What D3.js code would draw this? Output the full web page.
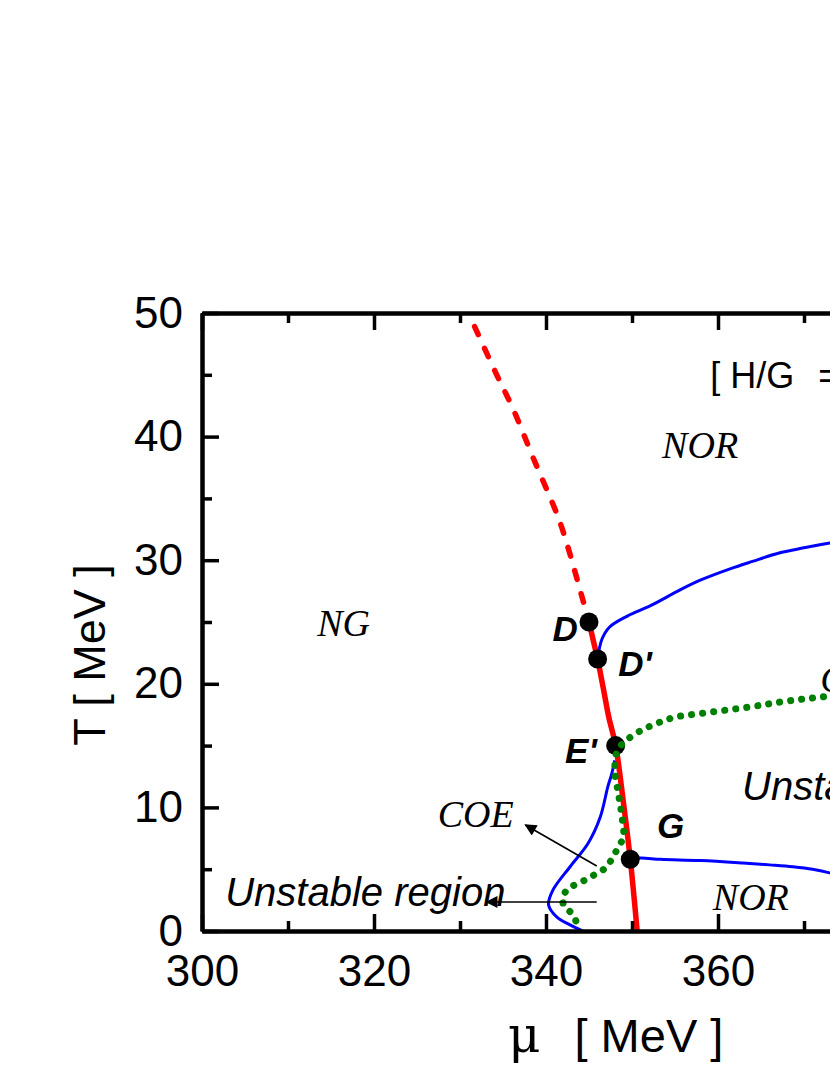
<!DOCTYPE html>
<html>
<head>
<meta charset="utf-8">
<script src="https://cdn.jsdelivr.net/npm/d3@7"></script>
<style>
  body { margin: 0; background: #fff; }
  svg { display: block; }
  text { font-family: "Liberation Sans", Arial, sans-serif; }
  .serif { font-family: "Liberation Serif", "Times New Roman", serif; font-style: italic; }
</style>
</head>
<body>
<div id="chart"></div>
<script>
// tick values (only the ones inside the visible frame get labels)
const xMajor = [300, 320, 340, 360];
const xMinor = [310, 330, 350, 370];
const yMajor = [0, 10, 20, 30, 40, 50];
const yMinor = [5, 15, 25, 35, 45];

// curves, [mu, T]
const redDashed = [[331.7, 48.9], [334.2, 45.1], [336.2, 42.2], [338.5, 38.3], [341.4, 33.5], [342.4, 31.4], [344.2, 27.0], [345.0, 25.0]];
const redSolid = [[345.0, 25.0], [345.5, 23.5], [346.0, 22.0], [346.7, 19.5], [347.3, 17.3], [348.1, 15.0], [349.0, 10.4], [349.8, 5.8], [350.6, 0.0]];
const blueUpper = [[346.0, 22.0], [346.5, 23.6], [347.4, 24.6], [349.5, 25.5], [352.1, 26.3], [355.6, 27.6], [358.0, 28.4], [361.4, 29.3], [364.0, 29.9], [367.2, 30.6], [370.0, 31.0], [373.0, 31.4], [376.0, 31.8], [380.0, 32.2]];
const blueLower = [[348.0, 13.8], [347.6, 12.6], [347.2, 11.7], [346.3, 9.2], [344.9, 7.1], [342.8, 5.2], [340.8, 3.3], [340.3, 2.1], [341.3, 1.1], [342.8, 0.5], [344.3, 0.0]];
const blueG = [[349.8, 5.8], [351.0, 5.9], [353.3, 5.8], [358.0, 5.7], [362.9, 5.5], [366.0, 5.35], [368.7, 5.2], [371.0, 5.0], [373.0, 4.7], [376.0, 4.0], [380.0, 3.0]];
const greenDotted = [[380.0, 19.5], [373.0, 19.0], [368.0, 18.6], [363.4, 18.1], [358.0, 17.6], [355.0, 17.3], [352.9, 16.8], [351.0, 16.2], [349.3, 15.4], [348.3, 14.6], [348.0, 13.0], [348.4, 11.2], [348.8, 9.4], [349.0, 7.6], [348.4, 6.8], [347.8, 6.0], [346.9, 5.1], [345.5, 4.5], [344.2, 4.0], [343.0, 3.6], [342.2, 3.1], [342.0, 2.2], [343.0, 1.4], [343.7, 0.5]];

// special points
const pointNames = ["D", "D'", "E'", "G"];
const pointMu = [345.0, 346.0, 348.1, 349.8];
const pointT = [25.0, 22.0, 15.0, 5.8];

// arrows [from, to]
const arrowCOE = [[345.9, 5.26], [337.6, 8.58]];
const arrowUnstable = [[345.9, 2.35], [333.1, 2.35]];

const width = 830, height = 1075;

const x = d3.scaleLinear().domain([300, 400]).range([202, 1062]);
const y = d3.scaleLinear().domain([0, 50]).range([931, 313]);

const svg = d3.select('#chart').append('svg')
  .attr('width', width)
  .attr('height', height);

svg.append('defs').append('marker')
  .attr('id', 'arrow')
  .attr('viewBox', '0 0 10 10')
  .attr('refX', 9).attr('refY', 5)
  .attr('markerWidth', 15).attr('markerHeight', 12)
  .attr('markerUnits', 'userSpaceOnUse')
  .attr('orient', 'auto')
  .append('path')
  .attr('d', 'M0,0 L10,5 L0,10 Z')
  .attr('fill', '#000');

const line = d3.line()
  .x(d => x(d[0]))
  .y(d => y(d[1]))
  .curve(d3.curveCatmullRom.alpha(0.5));

// blue boundaries
[blueUpper, blueLower, blueG].forEach(c => {
  svg.append('path')
    .attr('d', line(c))
    .attr('fill', 'none')
    .attr('stroke', '#0000ff')
    .attr('stroke-width', 3);
});

// red transition line
svg.append('path')
  .attr('d', line(redDashed))
  .attr('fill', 'none')
  .attr('stroke', '#ff0000')
  .attr('stroke-width', 5.5)
  .attr('stroke-linecap', 'round')
  .attr('stroke-dasharray', '9,15');

svg.append('path')
  .attr('d', line(redSolid))
  .attr('fill', 'none')
  .attr('stroke', '#ff0000')
  .attr('stroke-width', 5.5);

// points
svg.selectAll('circle.pt')
  .data(pointMu)
  .enter()
  .append('circle')
  .attr('class', 'pt')
  .attr('cx', d => x(d))
  .attr('cy', (d, i) => y(pointT[i]))
  .attr('r', 9.5)
  .attr('fill', '#000');

// green dotted line
svg.append('path')
  .attr('d', line(greenDotted))
  .attr('fill', 'none')
  .attr('stroke', '#008000')
  .attr('stroke-width', 7)
  .attr('stroke-linecap', 'round')
  .attr('stroke-dasharray', '0.1,11');

// arrows
[arrowCOE, arrowUnstable].forEach(a => {
  svg.append('line')
    .attr('x1', x(a[0][0])).attr('y1', y(a[0][1]))
    .attr('x2', x(a[1][0])).attr('y2', y(a[1][1]))
    .attr('stroke', '#000')
    .attr('stroke-width', 1.6)
    .attr('marker-end', 'url(#arrow)');
});

// axes
function styleAxis(g) {
  g.select('.domain').attr('stroke-width', 4);
  g.selectAll('.tick line').attr('stroke-width', 3.5);
  g.selectAll('.tick text').attr('font-size', 44).attr('font-family', '"Liberation Sans", Arial, sans-serif');
}

// bottom / top run past the right edge of the page, like the reference
svg.append('g')
  .attr('transform', `translate(0,${y(0)})`)
  .call(d3.axisBottom(x).tickValues(xMajor).tickSize(-17).tickSizeOuter(0).tickPadding(24))
  .call(styleAxis);
svg.append('g')
  .attr('transform', `translate(0,${y(0)})`)
  .call(d3.axisBottom(x).tickValues(xMinor).tickSize(-10).tickSizeOuter(0).tickFormat(''))
  .call(styleAxis);
svg.append('g')
  .attr('transform', `translate(0,${y(50)})`)
  .call(d3.axisTop(x).tickValues(xMajor).tickSize(-17).tickSizeOuter(0).tickFormat(''))
  .call(styleAxis);
svg.append('g')
  .attr('transform', `translate(0,${y(50)})`)
  .call(d3.axisTop(x).tickValues(xMinor).tickSize(-10).tickSizeOuter(0).tickFormat(''))
  .call(styleAxis);
svg.append('g')
  .attr('transform', `translate(${x(300)},0)`)
  .call(d3.axisLeft(y).tickValues(yMajor).tickSize(-17).tickSizeOuter(0).tickPadding(19))
  .call(styleAxis);
svg.append('g')
  .attr('transform', `translate(${x(300)},0)`)
  .call(d3.axisLeft(y).tickValues(yMinor).tickSize(-10).tickSizeOuter(0).tickFormat(''))
  .call(styleAxis);

// axis titles
svg.append('text')
  .attr('transform', 'translate(105,655) rotate(-90)')
  .attr('text-anchor', 'middle')
  .attr('font-size', 45)
  .text('T [ MeV ]');

const xt = svg.append('text')
  .attr('x', 508).attr('y', 1052)
  .attr('font-size', 47);
xt.append('tspan')
  .attr('font-family', '"DejaVu Serif", "Liberation Serif", serif')
  .attr('font-size', 50)
  .text('μ');
xt.append('tspan').attr('dx', 34).text('[ MeV ]');

// region labels
function label(txt, mu, t, opts) {
  const el = svg.append('text')
    .attr('x', x(mu)).attr('y', y(t))
    .attr('font-size', opts.size || 38)
    .attr('text-anchor', opts.anchor || 'start')
    .text(txt);
  if (opts.serif) el.attr('class', 'serif');
  if (opts.italic) el.attr('font-style', 'italic');
  if (opts.bold) el.attr('font-weight', 'bold');
  return el;
}

label('NOR', 353.5, 38.3, { serif: true, size: 38 });
label('NG', 313.4, 23.9, { serif: true, size: 38 });
label('COE', 327.4, 8.4, { serif: true, size: 38 });
label('NOR', 359.4, 1.7, { serif: true, size: 38 });
label('COE', 371.9, 19.3, { serif: true, size: 38 });
label('Unstable region', 302.7, 2.0, { italic: true, size: 40 });
label('Unstable region', 362.8, 10.6, { italic: true, size: 40 });

const hg = label('[ H/G', 359.1, 43.9, { size: 36 });
hg.append('tspan').attr('dx', 24).text('= 0.8 ]');

// point labels
label(pointNames[0], 343.7, 23.5, { italic: true, bold: true, size: 35, anchor: 'end' });
label(pointNames[1], 348.4, 20.6, { italic: true, bold: true, size: 35 });
label(pointNames[2], 345.9, 13.6, { italic: true, bold: true, size: 35, anchor: 'end' });
label(pointNames[3], 352.9, 7.5, { italic: true, bold: true, size: 35 });
</script>
</body>
</html>
